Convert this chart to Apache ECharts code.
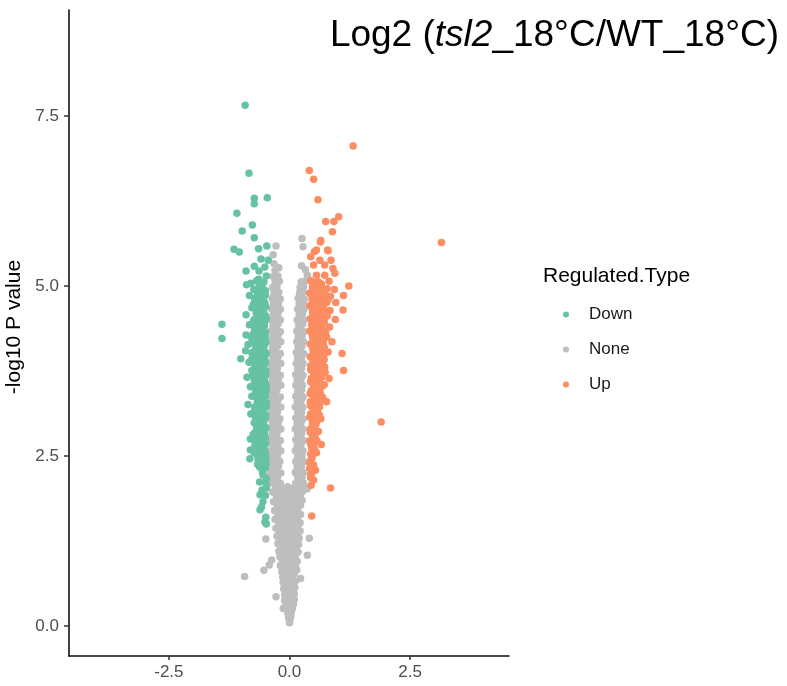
<!DOCTYPE html>
<html>
<head>
<meta charset="utf-8">
<script src="https://cdn.jsdelivr.net/npm/echarts@6/dist/echarts.min.js"></script>
<style>html,body{margin:0;padding:0;background:#fff;}#c{width:787px;height:686px;}</style>
</head>
<body>
<div id="c"></div>
<script>
const seriesNames = ['Down', 'None', 'Up'];
const xTicks = [-2.5, 0, 2.5];
const yTicks = [0, 2.5, 5, 7.5];

const downPts = [
[-0.92,7.66],[-0.84,6.66],[-0.73,6.29],[-0.73,6.21],[-0.46,6.3],[-1.09,6.07],[-0.77,5.9],[-0.98,5.81],[-0.73,5.71],[-1.15,5.54],[-1.04,5.5],[-0.64,5.55],[-0.47,5.59],[-0.59,5.4],[-0.44,5.38],[-0.73,5.29],[-0.9,5.22],[-0.63,5.22],[-0.51,5.28],[-0.48,5.15],
[-0.89,5.02],[-0.8,5.04],[-0.68,5.08],[-0.64,5.1],[-0.53,5.06],[-0.59,5.0],[-0.64,4.98],[-0.74,4.95],[-0.5,4.93],[-0.61,4.9],[-0.66,4.87],[-0.83,4.86],[-0.54,4.83],[-0.6,4.8],[-0.72,4.78],[-0.58,4.74],[-0.49,4.7],[-0.64,4.7],[-0.78,4.68],[-0.62,4.65],[-0.53,4.6],[-0.69,4.6],[-0.9,4.58],[-0.6,4.55],[-0.48,4.52],[-0.58,4.5],[-0.74,4.5],
[-1.4,4.44],[-1.4,4.23],[-0.63,4.45],[-0.83,4.43],[-0.52,4.42],[-0.61,4.38],[-0.72,4.36],[-0.5,4.32],[-0.62,4.3],[-0.9,4.28],[-0.57,4.26],[-0.78,4.24],[-0.67,4.2],[-0.49,4.18],[-0.62,4.16],[-0.86,4.14],[-0.7,4.11],[-0.54,4.08],[-0.61,4.06],[-0.91,4.05],[-0.78,4.02],[-0.59,4.0],[-0.48,4.0],
[-1.01,3.93],[-0.66,3.96],[-0.51,3.92],[-0.62,3.9],[-0.84,3.88],[-0.72,3.85],[-0.55,3.83],[-0.62,3.8],[-0.49,3.76],[-0.78,3.76],[-0.61,3.73],[-0.67,3.7],[-0.52,3.66],[-0.88,3.66],[-0.6,3.63],[-0.73,3.6],[-0.57,3.58],[-0.49,3.54],[-0.64,3.53],[-0.81,3.52],
[-0.61,3.48],[-0.7,3.46],[-0.51,3.44],[-0.6,3.4],[-0.78,3.38],[-0.55,3.35],[-0.66,3.32],[-0.48,3.28],[-0.86,3.26],[-0.62,3.26],[-0.72,3.22],[-0.53,3.19],[-0.62,3.16],[-0.49,3.1],[-0.6,3.08],[-0.7,3.06],[-0.8,3.12],[-0.53,3.02],[-0.62,3.0],
[-0.58,2.96],[-0.49,2.92],[-0.68,2.92],[-0.63,2.87],[-0.52,2.83],[-0.75,2.82],[-0.62,2.78],[-0.81,2.75],[-0.56,2.74],[-0.49,2.68],[-0.64,2.68],[-0.72,2.65],[-0.53,2.6],[-0.81,2.59],[-0.63,2.57],[-0.6,2.53],[-0.66,2.51],[-0.49,2.5],
[-0.82,2.46],[-0.49,2.44],[-0.51,2.4],[-0.66,2.38],[-0.5,2.33],[-0.56,2.27],[-0.48,2.17],[-0.62,2.12],[-0.48,2.03],[-0.61,1.93],[-0.55,1.83],[-0.58,1.75],[-0.61,1.71],[-0.51,1.53],[-0.48,1.5],
[-0.55,4.96],[-0.66,4.92],[-0.5,4.87],[-0.6,4.84],[-0.72,4.82],[-0.55,4.78],[-0.51,4.75],[-0.63,4.72],[-0.75,4.73],[-0.54,4.67],[-0.67,4.64],[-0.57,4.6],[-0.49,4.56],[-0.62,4.54],[-0.71,4.51],[-0.52,4.47],[-0.63,4.46],[-0.74,4.42],[-0.55,4.4],[-0.65,4.36],[-0.54,4.33],[-0.75,4.3],[-0.61,4.29],[-0.5,4.25],[-0.66,4.23],[-0.78,4.17],[-0.55,4.2],[-0.67,4.14],[-0.52,4.13],[-0.61,4.09],[-0.72,4.05],[-0.51,4.03],
[-0.65,3.98],[-0.55,3.95],[-0.78,3.93],[-0.67,3.88],[-0.5,3.87],[-0.61,3.82],[-0.72,3.79],[-0.54,3.77],[-0.65,3.72],[-0.49,3.7],[-0.77,3.68],[-0.59,3.65],[-0.7,3.61],[-0.51,3.6],[-0.63,3.55],[-0.75,3.53],[-0.54,3.51],[-0.68,3.47],[-0.48,3.47],[-0.58,3.43],[-0.73,3.38],[-0.5,3.38],[-0.62,3.36],[-0.55,3.3],[-0.67,3.28],[-0.48,3.23],[-0.6,3.21],[-0.73,3.15],[-0.55,3.13],
[-0.63,3.03],[-0.5,3.06],[-0.73,2.99],[-0.54,2.98],[-0.65,2.94],[-0.57,2.88],[-0.71,2.85],[-0.6,2.8],[-0.5,2.77],[-0.72,2.73],[-0.58,2.64],[-0.5,2.55],[-0.73,2.55],[-0.55,2.48],[-0.65,2.45],[-0.49,2.38],[-0.62,2.34],[-0.55,2.22],[-0.49,2.1],[-0.57,2.0],[-0.5,1.92],[-0.49,1.6]
];

const nonePts = [
[0.0,0.05],[0.01,0.09],[-0.02,0.12],[0.03,0.15],[-0.03,0.18],[0.04,0.21],[-0.05,0.24],[0.06,0.26],[-0.08,0.29],[0.01,0.3],[0.08,0.32],[-0.06,0.34],[0.04,0.36],[-0.1,0.38],[0.1,0.39],[-0.02,0.41],[0.06,0.43],[-0.13,0.26],[-0.28,0.43],
[-0.1,0.46],[0.0,0.47],[0.1,0.48],[-0.05,0.51],[0.05,0.52],[-0.12,0.55],[0.0,0.56],[0.11,0.57],[-0.07,0.6],[0.05,0.61],[-0.13,0.64],[0.0,0.65],[0.12,0.66],[-0.06,0.69],[0.06,0.7],[0.23,0.7],[-0.14,0.72],
[-0.93,0.73],[0.0,0.74],[-0.1,0.76],[0.1,0.77],[-0.16,0.8],[-0.04,0.81],[0.06,0.82],[0.15,0.83],[-0.53,0.82],[-0.1,0.86],[0.01,0.87],[0.12,0.88],[-0.19,0.89],[-0.42,0.9],[-0.05,0.93],[0.06,0.94],[0.16,0.95],[-0.15,0.96],[-0.37,0.97],
[-0.09,1.0],[0.02,1.0],[0.12,1.01],[-0.2,1.02],[0.37,1.04],[-0.14,1.06],[-0.03,1.07],[0.08,1.07],[0.18,1.09],[-0.22,1.1],[-0.09,1.12],[0.02,1.13],[0.13,1.14],[-0.17,1.16],[-0.04,1.19],[0.07,1.19],[0.19,1.2],[-0.24,1.21],[-0.12,1.23],[0.0,1.25],[0.12,1.26],[-0.21,1.27],[-0.49,1.28],[0.41,1.29],[0.2,1.29],
[-0.26,1.32],[-0.15,1.33],[-0.05,1.32],[0.06,1.33],[0.17,1.34],
[-0.21,1.38],[-0.1,1.39],[0.01,1.38],[0.12,1.39],[0.22,1.4],
[-0.28,1.44],[-0.16,1.45],[-0.05,1.45],[0.06,1.44],[0.17,1.46],
[-0.22,1.51],[-0.11,1.51],[0.0,1.52],[0.11,1.51],[0.22,1.52],
[-0.3,1.57],[-0.17,1.58],[-0.06,1.57],[0.05,1.58],[0.16,1.58],
[-0.24,1.63],[-0.12,1.64],[0.0,1.64],[0.11,1.65],[0.23,1.64],
[-0.31,1.7],[-0.19,1.7],[-0.07,1.71],[0.05,1.7],[0.17,1.71],
[-0.25,1.77],[-0.13,1.77],[-0.01,1.78],[0.11,1.77],[0.23,1.78],
[-0.33,1.83],[-0.2,1.84],[-0.08,1.84],[0.04,1.84],[0.16,1.85],[0.26,1.85],
[-0.27,1.9],[-0.14,1.91],[-0.02,1.9],[0.1,1.91],[0.22,1.91],
[-0.35,1.97],[-0.22,1.97],[-0.09,1.98],[0.04,1.97],[0.16,1.98],[0.27,1.98],
[-0.29,2.04],[-0.16,2.04],[-0.04,2.05],[0.1,2.04],[0.22,2.05],[0.37,2.02],
[-0.41,2.1],[-0.3,2.11],[-0.19,2.1],[-0.36,2.18],[-0.25,2.19],[-0.4,2.26],[-0.31,2.27],[-0.18,2.25],[-0.35,2.34],[-0.23,2.35],
[-0.42,2.42],[-0.29,2.43],[-0.2,2.42],[-0.36,2.5],[-0.25,2.51],[-0.4,2.58],[-0.3,2.6],[-0.18,2.58],[-0.34,2.66],[-0.24,2.67],
[-0.41,2.74],[-0.28,2.75],[-0.19,2.73],[-0.36,2.82],[-0.26,2.83],[-0.39,2.9],[-0.3,2.92],[-0.18,2.9],[-0.35,2.98],[-0.23,2.99],
[-0.41,3.06],[-0.29,3.07],[-0.2,3.05],[-0.37,3.14],[-0.25,3.15],[-0.4,3.22],[-0.31,3.23],[-0.18,3.22],[-0.35,3.3],[-0.24,3.32],
[-0.42,3.38],[-0.29,3.39],[-0.19,3.37],[-0.36,3.46],[-0.26,3.47],[-0.39,3.54],[-0.3,3.56],[-0.18,3.54],[-0.35,3.62],[-0.23,3.63],
[-0.41,3.7],[-0.28,3.71],[-0.19,3.69],[-0.36,3.78],[-0.25,3.79],[-0.4,3.86],[-0.3,3.88],[-0.18,3.86],[-0.34,3.94],[-0.24,3.95],
[-0.4,4.02],[-0.29,4.03],[-0.19,4.01],[-0.35,4.1],[-0.25,4.12],[-0.39,4.18],[-0.29,4.19],[-0.18,4.18],[-0.34,4.26],[-0.24,4.27],
[-0.39,4.34],[-0.28,4.35],[-0.19,4.33],[-0.34,4.42],[-0.24,4.44],[-0.38,4.5],[-0.29,4.51],[-0.19,4.5],[-0.33,4.58],[-0.24,4.59],
[-0.37,4.66],[-0.28,4.68],[-0.19,4.66],[-0.33,4.74],[-0.23,4.75],[-0.36,4.82],[-0.27,4.83],[-0.19,4.81],[-0.32,4.9],[-0.22,4.91],
[-0.35,4.98],[-0.26,4.99],[-0.3,5.06],[-0.21,5.07],[-0.34,5.14],[-0.24,5.15],[-0.3,5.23],[-0.22,5.27],[-0.32,5.33],[-0.34,5.46],[-0.28,5.59],
[0.13,2.1],[0.21,2.11],[0.29,2.1],[0.17,2.18],[0.26,2.19],[0.12,2.26],[0.2,2.28],[0.29,2.26],[0.16,2.34],[0.25,2.35],
[0.13,2.42],[0.21,2.43],[0.3,2.42],[0.17,2.5],[0.26,2.51],[0.12,2.58],[0.2,2.6],[0.28,2.58],[0.16,2.66],[0.24,2.67],
[0.13,2.74],[0.21,2.75],[0.29,2.73],[0.17,2.82],[0.25,2.83],[0.12,2.9],[0.2,2.92],[0.28,2.9],[0.16,2.98],[0.24,2.99],
[0.13,3.06],[0.21,3.07],[0.28,3.05],[0.17,3.14],[0.25,3.15],[0.12,3.22],[0.2,3.23],[0.28,3.22],[0.16,3.3],[0.24,3.32],
[0.13,3.38],[0.21,3.39],[0.28,3.37],[0.17,3.46],[0.25,3.47],[0.13,3.54],[0.2,3.56],[0.27,3.54],[0.16,3.62],[0.24,3.63],
[0.13,3.7],[0.21,3.71],[0.28,3.69],[0.17,3.78],[0.25,3.79],[0.14,3.86],[0.21,3.88],[0.28,3.86],[0.17,3.94],[0.25,3.95],
[0.14,4.02],[0.22,4.03],[0.29,4.01],[0.18,4.1],[0.26,4.12],[0.15,4.18],[0.22,4.19],[0.29,4.18],[0.18,4.26],[0.26,4.27],
[0.15,4.34],[0.23,4.35],[0.3,4.33],[0.19,4.42],[0.27,4.44],[0.16,4.5],[0.23,4.51],[0.3,4.5],[0.2,4.58],[0.27,4.59],
[0.17,4.66],[0.24,4.68],[0.3,4.66],[0.2,4.74],[0.28,4.75],[0.18,4.82],[0.25,4.83],[0.31,4.81],[0.21,4.9],[0.28,4.91],
[0.22,4.98],[0.29,4.99],[0.24,5.06],[0.31,5.07],[0.37,5.16],[0.33,5.24],[0.25,5.3],[0.28,5.58],[0.26,5.7]
];

const upPts = [
[1.32,7.06],[0.41,6.7],[0.5,6.57],[0.59,6.27],[0.75,5.95],[0.92,5.95],[1.02,6.02],[0.89,5.8],[0.64,5.65],[3.15,5.64],[0.8,5.52],[0.52,5.51],[1.9,3.0],[0.85,2.03],[0.46,1.62],
[0.65,5.67],[0.44,5.43],[0.56,5.53],[0.79,5.53],[0.86,5.38],[0.63,5.38],[0.5,5.31],[0.73,5.31],[0.9,5.26],[0.56,5.16],[0.73,5.16],[0.94,5.19],
[0.44,5.08],[0.54,5.05],[0.6,5.06],[0.82,5.07],[0.48,4.98],[0.54,4.97],[0.67,4.99],[0.78,4.96],[0.93,4.95],[1.23,5.0],[0.42,4.9],[0.53,4.88],[0.6,4.89],[0.72,4.87],[1.12,4.86],[0.85,4.85],
[0.47,4.8],[0.53,4.79],[0.65,4.78],[0.77,4.76],[0.96,4.76],[0.42,4.71],[0.54,4.7],[0.59,4.69],[0.71,4.67],[1.11,4.65],[0.84,4.64],[0.48,4.61],[0.54,4.6],[0.66,4.58],[0.78,4.56],[0.43,4.52],[0.5,4.51],[0.95,4.51],[0.61,4.49],[0.72,4.47],
[0.46,4.43],[0.53,4.42],[0.64,4.4],[0.83,4.4],[0.42,4.34],[0.53,4.33],[0.58,4.32],[0.7,4.3],[0.77,4.25],[0.88,4.18],[0.48,4.24],[0.54,4.23],[0.65,4.21],[0.43,4.15],[0.55,4.14],[0.6,4.12],[0.72,4.1],[1.09,4.01],[0.49,4.05],[0.55,4.04],[0.66,4.02],[0.8,4.03],
[0.43,3.96],[0.55,3.95],[0.6,3.93],[0.72,3.92],[0.49,3.86],[0.55,3.85],[0.66,3.84],[0.44,3.77],[0.5,3.76],[0.61,3.75],[0.74,3.73],[1.12,3.76],[0.5,3.68],[0.56,3.67],[0.67,3.66],[0.82,3.64],[0.44,3.59],[0.5,3.58],[0.62,3.57],[0.72,3.55],[0.5,3.5],
[0.57,3.49],[0.43,3.42],[0.5,3.41],[0.64,3.42],[0.49,3.33],[0.56,3.33],[0.77,3.3],[0.44,3.24],[0.5,3.23],[0.62,3.22],[0.59,3.13],[0.5,3.15],[0.42,3.07],[0.5,3.06],[0.65,3.05],[0.48,2.99],
[0.55,2.97],[0.43,2.9],[0.54,2.88],[0.6,2.86],[0.48,2.8],[0.53,2.78],[0.42,2.72],[0.53,2.7],[0.66,2.67],[0.46,2.62],[0.52,2.6],[0.56,2.55],[0.44,2.53],
[0.45,2.45],[0.42,2.4],[0.5,2.37],[0.42,2.32],[0.54,2.29],[0.45,2.22],[0.44,2.18],[0.5,2.15],[0.45,2.07],
[0.49,5.02],[0.66,5.03],[0.5,4.93],[0.61,4.94],[0.73,4.93],[0.47,4.85],[0.55,4.84],[0.67,4.83],[0.8,4.8],[0.53,4.75],[0.59,4.74],[0.71,4.73],[0.48,4.66],[0.54,4.65],[0.65,4.64],[0.78,4.62],[0.54,4.56],[0.6,4.55],[0.72,4.53],[0.49,4.48],[0.55,4.46],[0.67,4.45],
[0.52,4.38],[0.58,4.37],[0.7,4.36],[0.47,4.29],[0.52,4.28],[0.63,4.27],[0.75,4.33],[0.53,4.19],[0.59,4.18],[0.7,4.17],[0.48,4.1],[0.54,4.09],[0.66,4.08],[0.54,4.0],[0.6,3.99],[0.72,4.0],
[0.49,3.91],[0.55,3.9],[0.67,3.89],[0.44,3.83],[0.55,3.81],[0.61,3.8],[0.73,3.81],[0.5,3.73],[0.56,3.72],[0.67,3.71],[0.45,3.64],[0.5,3.63],[0.62,3.62],[0.5,3.55],[0.56,3.54],[0.67,3.52],
[0.5,3.47],[0.45,3.46],[0.62,3.46],[0.51,3.38],[0.56,3.38],[0.69,3.36],[0.43,3.3],[0.5,3.29],[0.63,3.28],[0.49,3.2],[0.55,3.18],[0.44,3.12],[0.5,3.11],[0.62,3.1],[0.5,3.03],[0.56,3.02],
[0.48,2.94],[0.5,2.93],[0.43,2.85],[0.53,2.83],[0.51,2.75],[0.57,2.72],[0.44,2.67],[0.52,2.57],[0.47,2.48],[0.47,2.27],[0.44,2.23]
];

const FONT = '"Liberation Sans", Arial, Helvetica, sans-serif';
const chart = echarts.init(document.getElementById('c'), null, {renderer: 'canvas'});
const colors = {Down: '#66C2A5', None: '#BEBEBE', Up: '#FC8D62'};
const dataByName = {Down: downPts, None: nonePts, Up: upPts};
const drawOrder = ['None', 'Down', 'Up'];

chart.setOption({
  animation: false,
  backgroundColor: '#fff',
  textStyle: {fontFamily: FONT},
  title: [
    {
      text: 'Log2 ({it|tsl2}_18°C/WT_18°C)',
      right: 8, top: 17, padding: 0,
      textStyle: {fontFamily: FONT, fontSize: 37, fontWeight: 'normal', color: '#000',
        rich: {it: {fontFamily: FONT, fontSize: 37, fontStyle: 'italic', color: '#000'}}}
    },
    {
      text: 'Regulated.Type',
      left: 543, top: 266, padding: 0,
      textStyle: {fontFamily: FONT, fontSize: 21, fontWeight: 'normal', color: '#000'}
    }
  ],
  legend: {
    orient: 'vertical', left: 558, top: 301,
    itemWidth: 6, itemHeight: 6, itemGap: 18, icon: 'circle',
    data: seriesNames,
    textStyle: {fontFamily: FONT, fontSize: 17, color: '#1a1a1a', lineHeight: 17, padding: [0, 0, 0, 15]}
  },
  grid: {left: 69, right: 278, top: 10, bottom: 30, containLabel: false, outerBoundsMode: 'none'},
  xAxis: {
    type: 'value', min: -4.57, max: 4.55,
    axisLine: {show: true, onZero: false, lineStyle: {color: '#111', width: 1.6}},
    axisTick: {show: true, length: 4, lineStyle: {color: '#333', width: 1.5}, customValues: xTicks},
    axisLabel: {customValues: xTicks, formatter: v => Number(v).toFixed(1), color: '#4d4d4d', fontSize: 17, margin: 8, fontFamily: FONT},
    splitLine: {show: false}
  },
  yAxis: {
    type: 'value', min: -0.44, max: 9.06,
    name: '-log10 P value', nameLocation: 'middle', nameGap: 34,
    nameTextStyle: {fontFamily: FONT, fontSize: 21, color: '#000', padding: [0, 0, 0, 12]},
    axisLine: {show: true, onZero: false, lineStyle: {color: '#111', width: 1.6}},
    axisTick: {show: true, length: 5, lineStyle: {color: '#333', width: 1.5}, customValues: yTicks},
    axisLabel: {customValues: yTicks, formatter: v => Number(v).toFixed(1), color: '#4d4d4d', fontSize: 17, margin: 10, fontFamily: FONT},
    splitLine: {show: false}
  },
  series: drawOrder.map(n => ({
    name: n, type: 'scatter', data: dataByName[n], symbol: 'circle', symbolSize: 7.5,
    itemStyle: {color: colors[n], opacity: 1}, emphasis: {disabled: true}
  }))
});
</script>
</body>
</html>
